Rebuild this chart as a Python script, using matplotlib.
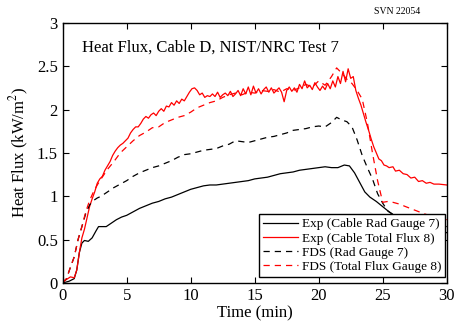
import matplotlib

matplotlib.use("Agg")
import matplotlib.pyplot as plt

# Exp (Cable Rad Gauge 7)
exp_rad_t = [0, 0.5, 0.9, 1.1, 1.3, 1.5, 1.7, 2.0, 2.3, 2.6, 2.8, 3.0, 3.4, 3.8, 4.2, 4.6,
             5.0, 5.5, 6.0, 6.5, 7.0, 7.5, 8.0, 8.5, 9.0, 9.5, 10.0, 10.5, 11.0, 11.5, 12.0,
             12.5, 13.0, 13.5, 14.0, 14.5, 15.0, 15.5, 16.0, 16.5, 17.0, 17.5, 18.0, 18.5,
             19.0, 19.5, 20.0, 20.5, 21.0, 21.5, 22.0, 22.4, 22.8, 23.2, 23.6, 24.0, 24.5,
             25.0, 25.5, 26.0, 26.5, 27.0, 28.0, 29.0, 30.0]
exp_rad = [0.0, 0.02, 0.05, 0.15, 0.35, 0.46, 0.49, 0.48, 0.52, 0.60, 0.65, 0.65, 0.65, 0.69,
           0.73, 0.76, 0.78, 0.82, 0.86, 0.89, 0.92, 0.94, 0.97, 0.99, 1.02, 1.05, 1.08, 1.10,
           1.12, 1.13, 1.13, 1.14, 1.15, 1.16, 1.17, 1.18, 1.20, 1.21, 1.22, 1.24, 1.26, 1.27,
           1.28, 1.30, 1.31, 1.32, 1.33, 1.34, 1.33, 1.33, 1.36, 1.35, 1.27, 1.16, 1.05, 0.99,
           0.94, 0.88, 0.82, 0.77, 0.74, 0.71, 0.66, 0.62, 0.58]

# Exp (Cable Total Flux 8)
exp_tot_t = [0, 0.3, 0.6, 0.9, 1.1, 1.3, 1.5, 1.7, 1.9, 2.1, 2.3, 2.5, 2.7, 2.9, 3.1, 3.3,
             3.5, 3.7, 3.9, 4.1, 4.3, 4.5, 4.7, 4.9, 5.1, 5.3, 5.5, 5.7, 5.9, 6.1, 6.3, 6.5,
             6.7, 6.9, 7.1, 7.3, 7.5, 7.7, 7.9, 8.1, 8.3, 8.5, 8.7, 8.9, 9.1, 9.3, 9.5, 9.7,
             9.9, 10.1, 10.3, 10.5, 10.7, 10.9, 11.1, 11.3, 11.5, 11.7, 11.9, 12.1, 12.3,
             12.5, 12.7, 12.9, 13.1, 13.3, 13.5, 13.7, 13.9, 14.1, 14.3, 14.5, 14.7, 14.9,
             15.1, 15.3, 15.5, 15.7, 15.9, 16.1, 16.3, 16.5, 16.7, 16.9, 17.1, 17.3, 17.5,
             17.7, 17.9, 18.1, 18.3, 18.5, 18.7, 18.9, 19.1, 19.3, 19.5, 19.7, 19.9, 20.1,
             20.3, 20.5, 20.7, 20.9, 21.1, 21.3, 21.5, 21.7, 21.9, 22.1, 22.3, 22.5, 22.7,
             22.9, 23.1, 23.3, 23.5, 23.7, 23.9, 24.1, 24.3, 24.5, 24.7, 24.9, 25.1, 25.3,
             25.5, 25.8, 26.0, 26.3, 26.6, 26.9, 27.2, 27.5, 27.8, 28.1, 28.4, 28.7, 29.0,
             29.4, 30.0]
exp_tot = [0.02, 0.04, 0.07, 0.06, 0.15, 0.35, 0.52, 0.62, 0.75, 0.88, 0.97, 1.05, 1.15, 1.20,
           1.23, 1.30, 1.35, 1.40, 1.47, 1.52, 1.56, 1.59, 1.61, 1.64, 1.67, 1.73, 1.77, 1.80,
           1.80, 1.84, 1.89, 1.92, 1.90, 1.94, 1.96, 1.93, 1.98, 2.01, 1.98, 2.04, 2.03, 2.08,
           2.05, 2.10, 2.07, 2.12, 2.10, 2.15, 2.20, 2.24, 2.25, 2.22, 2.17, 2.19, 2.14, 2.16,
           2.15, 2.18, 2.15, 2.20, 2.14, 2.17, 2.19, 2.16, 2.21, 2.15, 2.18, 2.22, 2.16, 2.24,
           2.18, 2.26, 2.17, 2.27, 2.19, 2.24, 2.18, 2.23, 2.26, 2.20, 2.25, 2.19, 2.22, 2.25,
           2.20, 2.09, 2.22, 2.26, 2.21, 2.25, 2.20, 2.29, 2.24, 2.33, 2.25, 2.28, 2.23, 2.31,
           2.26, 2.22, 2.27, 2.23, 2.30, 2.24, 2.33, 2.26, 2.38, 2.30, 2.44, 2.32, 2.47, 2.36,
           2.38, 2.22, 2.13, 2.05, 1.95, 1.85, 1.76, 1.66, 1.57, 1.50, 1.43, 1.41, 1.36, 1.35,
           1.33, 1.34, 1.29, 1.30, 1.26, 1.25, 1.21, 1.22, 1.17, 1.18, 1.15, 1.16, 1.14, 1.14,
           1.13]

# FDS predictions
fds_t = [0, 0.3, 0.6, 0.9, 1.2, 1.5, 1.8, 2.1, 2.4, 2.7, 3.0, 3.5, 4.0, 4.5, 5.0, 5.5, 6.0,
         6.5, 7.0, 7.5, 8.0, 8.5, 9.0, 9.5, 10.0, 10.5, 11.0, 11.5, 12.0, 12.5, 13.0, 13.5,
         14.0, 14.5, 15.0, 15.5, 16.0, 16.5, 17.0, 17.5, 18.0, 18.5, 19.0, 19.5, 20.0, 20.5,
         21.0, 21.4, 21.8, 22.2, 22.6, 23.0, 23.4, 23.8, 24.2, 24.6, 25.0, 25.4, 25.8, 26.3,
         26.8, 27.5, 28.2, 29.0, 30.0]
fds_rad = [0.0, 0.05, 0.18, 0.30, 0.50, 0.65, 0.80, 0.90, 0.95, 0.98, 1.00, 1.05, 1.10, 1.14,
           1.18, 1.23, 1.27, 1.30, 1.33, 1.35, 1.38, 1.41, 1.45, 1.48, 1.49, 1.51, 1.53, 1.54,
           1.55, 1.58, 1.60, 1.64, 1.63, 1.62, 1.64, 1.66, 1.68, 1.69, 1.71, 1.73, 1.76, 1.77,
           1.78, 1.80, 1.81, 1.80, 1.85, 1.91, 1.88, 1.86, 1.80, 1.65, 1.47, 1.33, 1.20, 1.03,
           0.92, 0.83, 0.79, 0.76, 0.74, 0.71, 0.69, 0.67, 0.65]
fds_tot = [0.0, 0.05, 0.18, 0.30, 0.50, 0.65, 0.82, 0.95, 1.05, 1.13, 1.20, 1.31, 1.40, 1.50,
           1.57, 1.64, 1.70, 1.74, 1.79, 1.80, 1.85, 1.88, 1.91, 1.93, 1.97, 2.02, 2.05, 2.08,
           2.10, 2.14, 2.17, 2.19, 2.17, 2.20, 2.19, 2.22, 2.21, 2.23, 2.20, 2.24, 2.22, 2.25,
           2.29, 2.26, 2.33, 2.28, 2.38, 2.48, 2.42, 2.35, 2.30, 2.22, 2.12, 1.85, 1.50, 1.18,
           0.93, 0.94, 0.93, 0.91, 0.88, 0.84, 0.80, 0.76, 0.73]

x_ticks = [0, 5, 10, 15, 20, 25, 30]
y_ticks = [0, 0.5, 1, 1.5, 2, 2.5, 3]

plt.rcParams["font.family"] = ["Liberation Serif", "DejaVu Serif"]
plt.rcParams["mathtext.fontset"] = "stix"

fig = plt.figure(figsize=(4.61, 3.26), dpi=100)
ax = fig.add_axes([0.136, 0.132, 0.833, 0.798])

ax.plot(exp_rad_t, exp_rad, color="black", lw=0.9, label="Exp (Cable Rad Gauge 7)")
ax.plot(exp_tot_t, exp_tot, color="red", lw=0.9, label="Exp (Cable Total Flux 8)")
ax.plot(fds_t, fds_rad, color="black", lw=0.9, ls=(0, (5, 4)), label="FDS (Rad Gauge 7)")
ax.plot(fds_t, fds_tot, color="red", lw=0.9, ls=(0, (5, 4)), label="FDS (Total Flux Gauge 8)")

ax.set_xlim(0, 30)
ax.set_ylim(0, 3)
ax.set_xticks(x_ticks)
ax.set_yticks(y_ticks)
ax.set_xticklabels([str(v) for v in x_ticks])
ax.set_yticklabels(["0", "0.5", "1", "1.5", "2", "2.5", "3"])
ax.tick_params(direction="in", top=True, right=True, labelsize=12, length=4, width=0.8)
for s in ax.spines.values():
    s.set_linewidth(1.0)

ax.set_xlabel("Time (min)", fontsize=12, labelpad=1)
ax.set_ylabel("Heat Flux (kW/m$^2$)", fontsize=12, labelpad=4)
ax.text(0.05, 0.905, "Heat Flux, Cable D, NIST/NRC Test 7", transform=ax.transAxes,
        fontsize=12, va="center", ha="left")

leg = ax.legend(loc="lower right", bbox_to_anchor=(0.996, 0.023), fontsize=9.5,
                handlelength=2.6, labelspacing=0.15, borderpad=0.3, handletextpad=0.3,
                fancybox=False, framealpha=1, edgecolor="black", borderaxespad=0)
leg.get_frame().set_linewidth(1.0)

fig.text(0.911, 0.966, "SVN 22054", fontsize=7, ha="right", va="center")

fig.savefig("out.png", dpi=100)
plt.close(fig)
